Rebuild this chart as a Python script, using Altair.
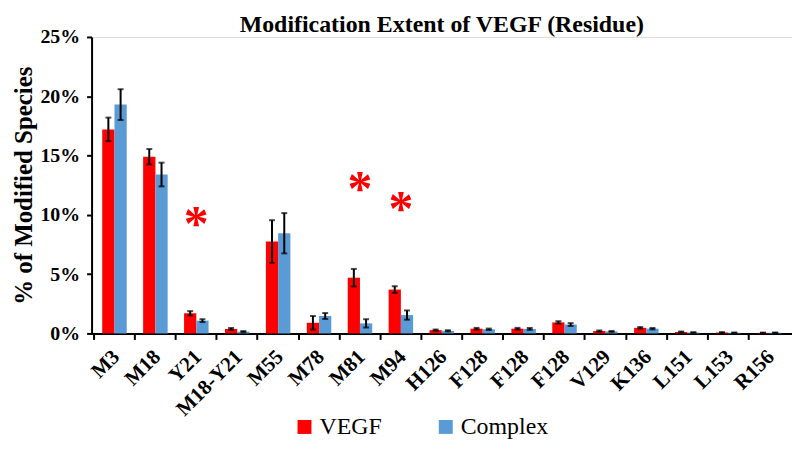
import json
import altair as alt
import pandas as pd

# ---- data ----
categories = ["M3", "M18", "Y21", "M18-Y21", "M55", "M78", "M81", "M94", "H126",
              "F128", "F128", "F128", "V129", "K136", "L151", "L153", "R156"]
vegf = [17.2, 14.9, 1.70, 0.38, 7.75, 0.90, 4.70, 3.70, 0.28, 0.40, 0.40, 0.93, 0.20, 0.47, 0.12, 0.08, 0.05]
vegf_err = [1.00, 0.65, 0.18, 0.08, 1.80, 0.57, 0.74, 0.28, 0.05, 0.07, 0.07, 0.10, 0.05, 0.07, 0.04, 0.03, 0.02]
complex_vals = [19.3, 13.4, 1.08, 0.15, 8.45, 1.47, 0.85, 1.55, 0.22, 0.35, 0.38, 0.75, 0.17, 0.40, 0.08, 0.06, 0.06]
complex_err = [1.30, 1.00, 0.12, 0.05, 1.70, 0.25, 0.35, 0.39, 0.05, 0.06, 0.08, 0.12, 0.04, 0.06, 0.03, 0.02, 0.02]
series_names = ["VEGF", "Complex"]
series_colors = ["#FF0000", "#5B9BD5"]
star_idx = [2, 6, 7]
star_y = [9.8, 12.75, 11.1]
y_ticks = [0, 5, 10, 15, 20, 25]
title_text = "Modification Extent of VEGF (Residue)"

rows = []
for i, c in enumerate(categories):
    for s, vals, errs in (("VEGF", vegf, vegf_err), ("Complex", complex_vals, complex_err)):
        v, e = vals[i], errs[i]
        rows.append({"idx": i, "label": c, "series": s, "value": v, "lo": v - e, "hi": v + e})
df = pd.DataFrame(rows)
stars = pd.DataFrame({"idx": star_idx, "y": star_y, "t": ["*"] * len(star_idx)})
title_df = pd.DataFrame({"t": [title_text]})

FONT = "Liberation Serif"
label_expr = json.dumps(categories) + "[datum.value]"
W, H = 704, 298

x_enc = alt.X(
    "idx:O",
    scale=alt.Scale(paddingInner=0, paddingOuter=0.06),
    axis=alt.Axis(
        title=None, labelExpr=label_expr, labelAngle=-45, labelAlign="right",
        labelBaseline="middle", labelFont=FONT, labelFontSize=21, labelFontWeight="bold",
        labelColor="black", bandPosition=0, labelOffset=2, labelPadding=14,
        tickSize=6, tickWidth=2, tickColor="black", domainColor="black", domainWidth=2,
    ),
)
xoff = alt.XOffset("series:N", sort=series_names,
                   scale=alt.Scale(paddingInner=0, paddingOuter=0.67))
y_scale = alt.Scale(domain=[0, 25], nice=False)

bars = alt.Chart(df).mark_bar().encode(
    x=x_enc,
    xOffset=xoff,
    y=alt.Y(
        "value:Q", scale=y_scale,
        axis=alt.Axis(
            title="% of Modified Species", titleFont=FONT, titleFontSize=25,
            titleFontWeight="bold", titleColor="black", titlePadding=3,
            values=y_ticks, labelExpr="datum.value + '%'", labelFont=FONT,
            labelFontSize=20, labelFontWeight="bold", labelColor="black",
            labelPadding=7, tickSize=5, tickWidth=2, tickColor="black",
            domainColor="black", domainWidth=2, grid=False,
        ),
    ),
    color=alt.Color(
        "series:N", sort=series_names,
        scale=alt.Scale(domain=series_names, range=series_colors),
        legend=alt.Legend(
            title=None, orient="none", legendX=202, legendY=380, direction="horizontal",
            symbolType="square", symbolSize=196, symbolStrokeWidth=0,
            labelFont=FONT, labelFontSize=24, labelColor="black", labelOffset=3,
            columnPadding=52,
        ),
    ),
)

rules = alt.Chart(df).mark_rule(color="black", strokeWidth=2).encode(
    x=alt.X("idx:O"), xOffset=xoff, y=alt.Y("lo:Q", scale=y_scale), y2="hi:Q"
)
cap_lo = alt.Chart(df).mark_tick(color="black", size=6, thickness=2).encode(
    x=alt.X("idx:O"), xOffset=xoff, y=alt.Y("lo:Q", scale=y_scale)
)
cap_hi = alt.Chart(df).mark_tick(color="black", size=6, thickness=2).encode(
    x=alt.X("idx:O"), xOffset=xoff, y=alt.Y("hi:Q", scale=y_scale)
)
star_marks = alt.Chart(stars).mark_text(
    color="#FF0000", font=FONT, fontSize=50, fontWeight="bold", baseline="alphabetic", dy=23
).encode(x=alt.X("idx:O"), y=alt.Y("y:Q", scale=y_scale), text="t:N")

title_mark = alt.Chart(title_df).mark_text(
    font=FONT, fontSize=24, fontWeight="bold", color="black",
    align="center", baseline="alphabetic"
).encode(x=alt.value(352), y=alt.value(-5), text="t:N")

chart = alt.layer(bars, rules, cap_lo, cap_hi, star_marks, title_mark).properties(
    width=W, height=H,
    autosize=alt.AutoSizeParams(type="none"),
    padding={"left": 84, "top": 28, "right": 0, "bottom": 107},
).configure_view(stroke=None).configure(background="white")

chart.save("out.html", embed_options={"renderer": "svg", "actions": False})
